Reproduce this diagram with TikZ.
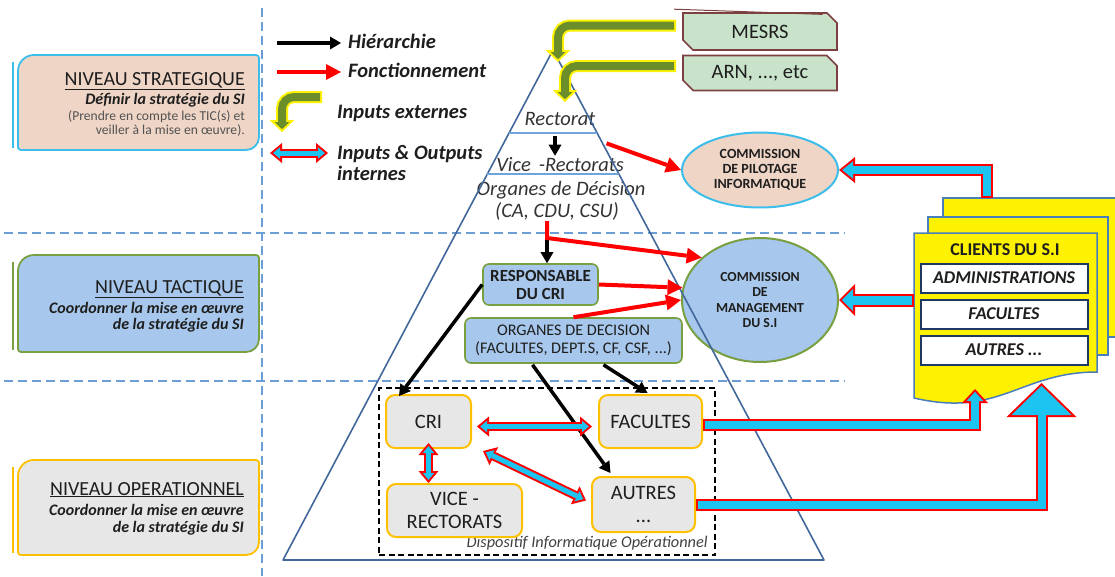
\documentclass[tikz,border=0pt]{standalone}
\usepackage{fontspec}
\setmainfont{Carlito}
\usetikzlibrary{arrows.meta,shapes.geometric,shapes.misc,calc}

\definecolor{peach}{HTML}{EFD5C6}
\definecolor{skyline}{HTML}{3DBDEA}
\definecolor{paleblue}{HTML}{A7C8EC}
\definecolor{leaf}{HTML}{78A040}
\definecolor{amber}{HTML}{FFC000}
\definecolor{pale}{HTML}{E7E7E7}
\definecolor{moss}{HTML}{6B8E2A}
\definecolor{mint}{HTML}{C9E3CA}
\definecolor{maroon}{HTML}{7D4040}
\definecolor{pyrblue}{HTML}{41679B}
\definecolor{layblue}{HTML}{6FA5DC}
\definecolor{dashblue}{HTML}{6C9ED6}
\definecolor{iocyan}{HTML}{1CC4F2}
\definecolor{navy}{HTML}{1F3864}
\definecolor{docblue}{HTML}{4A7EBB}
\definecolor{ink}{HTML}{1E1E1E}

\tikzset{
  sepline/.style={dashblue,line width=1.6pt,dash pattern=on 9pt off 5pt},
  lvltitle/.style={anchor=base east,inner sep=0pt,text=ink,font=\fontsize{20}{22}\selectfont},
  lvlsub/.style={anchor=base east,inner sep=0pt,text=ink,font=\fontsize{16}{18}\selectfont\bfseries\itshape},
  lvlnote/.style={anchor=base east,inner sep=0pt,text=black!68,font=\fontsize{13.6}{15}\selectfont},
  legtext/.style={anchor=base west,inner sep=0pt,text=ink,font=\fontsize{20.5}{22}\selectfont\bfseries\itshape},
  pyrtext/.style={anchor=base,inner sep=1pt,text=black!80,font=\fontsize{20.5}{22}\selectfont\itshape},
  pyrline/.style={pyrblue,line width=1.6pt,line join=round},
  layline/.style={layblue,line width=1.6pt},
  hier/.style={black,line width=3.5pt,-{Triangle[length=11pt,width=13pt,line width=0pt]}},
  fonc/.style={red,line width=4pt,-{Triangle[length=15pt,width=16pt,line width=0pt]}},
  extbox/.style={chamfered rectangle,chamfered rectangle corners={north east,south west},
    chamfered rectangle xsep=7pt,draw=maroon,line width=1.6pt,fill=mint,
    minimum width=154pt,minimum height=37pt,inner sep=0pt,text=ink,font=\fontsize{20.5}{22}\selectfont},
  pilot/.style={ellipse,draw=skyline,line width=2pt,fill=peach,minimum width=156pt,minimum height=75pt,
    align=center,inner sep=0pt,text=ink,font=\fontsize{14}{15}\selectfont\bfseries},
  manag/.style={ellipse,draw=leaf,line width=2pt,fill=paleblue,minimum width=156pt,minimum height=124pt,
    align=center,inner sep=0pt,text=ink,font=\fontsize{13.8}{15.5}\selectfont\bfseries},
  tacbox/.style={draw=leaf,line width=1.6pt,fill=paleblue,rounded corners=6pt,align=center,
    inner sep=2pt,text=ink,font=\fontsize{16.2}{18}\selectfont},
  opbox/.style={draw=amber,line width=2pt,fill=pale,rounded corners=9pt,minimum height=53pt,
    align=center,text=ink,font=\fontsize{20.5}{23}\selectfont},
  dispo/.style={draw,line width=1.8pt,dash pattern=on 6pt off 3.5pt,minimum width=336pt,
    minimum height=167pt,inner sep=0pt},
  dlabel/.style={anchor=base east,inner sep=0pt,text=black!75,font=\fontsize{16.3}{18}\selectfont\itshape},
  docpage/.style={draw=docblue,line width=1.5pt,fill=yellow},
  cltitle/.style={anchor=base,inner sep=0pt,text=ink,font=\fontsize{18}{20}\selectfont\bfseries},
  cltbox/.style={draw=navy,line width=2pt,fill=white,minimum width=167pt,minimum height=29pt,
    inner sep=0pt,text=ink,font=\fontsize{18}{20}\selectfont\bfseries\itshape},
  % fleches bloc
  feed out/.style={yellow,line width=12pt,rounded corners=12pt,-{Triangle[length=12pt,width=25pt,line width=0pt]}},
  feed in/.style={moss,line width=8pt,rounded corners=12pt,shorten <=2pt,shorten >=2.8pt,
    -{Triangle[length=7.2pt,width=15pt,line width=0pt]}},
  dbl out/.style={red,line width=9pt,
    {Triangle[length=12pt,width=20pt,line width=0pt]}-{Triangle[length=12pt,width=20pt,line width=0pt]}},
  dbl in/.style={iocyan,line width=5pt,shorten <=3.1pt,shorten >=3.1pt,
    {Triangle[length=6.9pt,width=11.5pt,line width=0pt]}-{Triangle[length=6.9pt,width=11.5pt,line width=0pt]}},
  up out/.style={red,line width=12pt,-{Triangle[length=14pt,width=26pt,line width=0pt]}},
  up in/.style={iocyan,line width=8pt,shorten <=2pt,shorten >=2.9pt,
    -{Triangle[length=9.1pt,width=16.9pt,line width=0pt]}},
  big out/.style={red,line width=12pt,-{Triangle[length=34pt,width=70pt,line width=0pt]}},
  big in/.style={iocyan,line width=8pt,shorten <=2pt,shorten >=2.8pt,
    -{Triangle[length=29.2pt,width=60pt,line width=0pt]}},
  side out/.style={red,line width=13pt,-{Triangle[length=16pt,width=32pt,line width=0pt]}},
  side in/.style={iocyan,line width=9pt,shorten <=2pt,shorten >=2.8pt,
    -{Triangle[length=11.2pt,width=22.3pt,line width=0pt]}},
  top out/.style={red,line width=12pt,-{Triangle[length=16pt,width=26pt,line width=0pt]}},
  top in/.style={iocyan,line width=8pt,shorten <=2pt,shorten >=3.2pt,
    -{Triangle[length=10.8pt,width=17.5pt,line width=0pt]}},
}

% cadre de niveau : x1 y1 x2 y2 bord fond
\newcommand\levelframe[6]{%
  \draw[#5,line width=1.8pt,fill=#6] (#1,#4-3) -- (#1,#2+16)
    arc[start angle=180,end angle=270,radius=16] -- (#3-3,#2)
    arc[start angle=270,end angle=360,radius=3] -- (#3,#4-13)
    arc[start angle=0,end angle=90,radius=13] -- (#1+3,#4)
    arc[start angle=90,end angle=180,radius=3] -- cycle;
  \draw[#5,line width=1.8pt] (#1-5,#2+7) -- (#1-5,#4-2);}

\begin{document}
\begin{tikzpicture}[x=1pt,y=-1pt]
\useasboundingbox (0,0) rectangle (1115,576);

% separations
\draw[sepline] (262,8) -- (262,576);
\draw[sepline] (4,233) -- (845,233);
\draw[sepline] (4,381) -- (845,381);

% niveaux
\levelframe{18}{55}{259}{150}{skyline}{peach}
\levelframe{18}{255}{259}{352}{leaf}{paleblue}
\levelframe{18}{460}{259}{555}{amber}{pale}
\node[lvltitle] (strat) at (245,85) {\underline{NIVEAU STRATEGIQUE}};
\node[lvlsub] (stratA) at (245,104) {Définir la stratégie du SI};
\node[lvlnote] (stratB) at (245,120) {(Prendre en compte les TIC(s) et};
\node[lvlnote] (stratC) at (245,134) {veiller à la mise en œuvre).};
\node[lvltitle] (tact) at (244,293) {\underline{NIVEAU TACTIQUE}};
\node[lvlsub] (tactA) at (244,313) {Coordonner la mise en œuvre};
\node[lvlsub] (tactB) at (244,329) {de la stratégie du SI};
\node[lvltitle] (oper) at (244,495) {\underline{NIVEAU OPERATIONNEL}};
\node[lvlsub] (operA) at (244,515) {Coordonner la mise en œuvre};
\node[lvlsub] (operB) at (244,532) {de la stratégie du SI};

% legende
\coordinate (lgH1) at (277,43);
\coordinate (lgH2) at (341,43);
\draw[hier] (lgH1) -- (lgH2);
\node[legtext] (lgHtxt) at (348,48) {Hiérarchie};
\coordinate (lgF1) at (277,72);
\coordinate (lgF2) at (341,72);
\draw[fonc] (lgF1) -- (lgF2);
\node[legtext] (lgFtxt) at (348,77) {Fonctionnement};
\coordinate (lgE1) at (322,97);
\coordinate (lgE2) at (282,132);
\draw[feed out] (lgE1) -| (lgE2);
\draw[feed in] (lgE1) -| (lgE2);
\node[legtext] (lgEtxt) at (337,118) {Inputs externes};
\coordinate (lgI1) at (270,153);
\coordinate (lgI2) at (328,153);
\draw[dbl out] (lgI1) -- (lgI2);
\draw[dbl in] (lgI1) -- (lgI2);
\node[legtext] (lgItxt) at (337,159) {Inputs \& Outputs};
\node[legtext] (lgItxtB) at (337,180) {internes};

% pyramide
\node[pyrtext] (rect) at (560,125) {Rectorat};
\node[pyrtext] (vr) at (560,171) {Vice\hspace{8pt}-Rectorats};
\node[pyrtext] (orgA) at (561,195) {Organes de Décision};
\node[pyrtext] (orgB) at (557,217) {(CA, CDU, CSU)};

\node[pilot] (pil) at (760,170) {COMMISSION\\DE PILOTAGE\\INFORMATIQUE};
\node[manag] (mgmt) at (760,300) {COMMISSION\\DE\\MANAGEMENT\\DU S.I};

\coordinate (apex) at (553,50);
\coordinate (pl) at (283,560);
\coordinate (pr) at (824,560);
\draw[pyrline] (pl) -- (apex) -- (pr) -- cycle;
\draw[layline] ($(pl)!0.837!(apex)$) -- ($(pr)!0.837!(apex)$);
\draw[layline] ($(pl)!0.757!(apex)$) -- ($(pr)!0.757!(apex)$);

% inputs externes
\node[extbox] (mesrs) at (760,31.5) {MESRS};
\node[extbox,minimum height=35pt] (arn) at (760,73) {ARN, ..., etc};
\draw[maroon,line width=1pt] ($(mesrs.north west)+(-8,-3)$) -- ($(mesrs.north east)+(-10,-3)$);
\coordinate (inA) at (558,62);
\coordinate (inB) at (565,102);
\draw[feed out] ($(mesrs.west)+(-6,-6)$) -| (inA);
\draw[feed in] ($(mesrs.west)+(-6,-6)$) -| (inA);
\draw[feed out] ($(arn.west)+(-6,-7)$) -| (inB);
\draw[feed in] ($(arn.west)+(-6,-7)$) -| (inB);

% niveau tactique et operationnel
\node[tacbox,minimum width=115pt,minimum height=41pt,font=\fontsize{17}{18}\selectfont\bfseries] (resp) at (540.5,284.5) {RESPONSABLE\\DU CRI};
\node[tacbox,minimum width=217pt,minimum height=45pt] (org2) at (573.5,340.5) {ORGANES DE DECISION\\(FACULTES, DEPT.S, CF, CSF, ...)};
\node[dispo] (dispo) at (547,471.5) {};
\node[dlabel] (dispolbl) at ($(dispo.south east)+(-8,-8)$) {Dispositif Informatique Opérationnel};
\node[opbox,minimum width=85pt] (cri) at (428.5,421.5) {CRI};
\node[opbox,minimum width=103pt] (fac) at (650.5,421.5) {FACULTES};
\node[opbox,minimum width=135pt] (vice) at (454.5,510.5) {VICE -\\RECTORATS};
\node[opbox,minimum width=103pt,minimum height=55pt] (aut) at (643.5,504.5) {AUTRES\\...};

% clients
\draw[docpage] (943,198) rectangle (1122,337);
\draw[docpage] (928,217) rectangle (1108,355);
\draw[docpage] (914,233) -- (1097,233) -- (1097,372) .. controls (1020,372) and (1000,418) .. (914,398) -- cycle;
\node[cltitle] (clients) at (1005,255) {CLIENTS DU S.I};
\node[cltbox] (cadm) at (1004,278) {ADMINISTRATIONS};
\node[cltbox] (cfac) at (1004,314) {FACULTES};
\node[cltbox] (caut) at (1004,350) {AUTRES ...};
\coordinate (clTop) at (987,198);
\coordinate (clLeft) at (914,300);
\coordinate (clA) at (975,389);
\coordinate (clB) at (1041.5,383);

% fonctionnement
\coordinate (split) at (547,238);
\draw[hier] (split) -- (split |- resp.north);
\draw[fonc] ($(rect.south east)+(10,17)$) -- (pil.west);
\draw[fonc] (split |- orgB.south) -- (split) -- (mgmt.144);
\draw[fonc] (resp.east) -- (mgmt.171);
\draw[fonc] (org2.north) -- (mgmt.west);

% hierarchie
\draw[hier] ($(rect.south)+(-5,10)$) -- ($(vr.north)+(-5,0)$);
\draw[hier] (resp.west) -- ($(cri.north west)+(14,2)$);
\draw[hier] ($(org2.south)+(-41,1)$) -- ($(aut.north)+(-33,-3)$);
\draw[hier] ($(org2.south)+(30,1)$) -- ($(fac.north)+(-3,-1)$);

% inputs / outputs internes
\draw[dbl out] ($(cri.east)+(5,5)$) -- ($(fac.west)+(-6,5)$);
\draw[dbl in] ($(cri.east)+(5,5)$) -- ($(fac.west)+(-6,5)$);
\draw[dbl out] ($(cri.south)+(0,-6)$) -- (cri.south |- vice.north);
\draw[dbl in] ($(cri.south)+(0,-6)$) -- (cri.south |- vice.north);
\draw[dbl out] ($(cri.south east)+(11,2)$) -- ($(aut.west)+(-5,-4)$);
\draw[dbl in] ($(cri.south east)+(11,2)$) -- ($(aut.west)+(-5,-4)$);

\draw[up out] ($(fac.east)+(0,3)$) -| (clA);
\draw[up in] ($(fac.east)+(0,3)$) -| (clA);
\draw[big out] (aut.east) -| (clB);
\draw[big in] (aut.east) -| (clB);
\draw[side out] (clLeft) -- (mgmt.east);
\draw[side in] (clLeft) -- (mgmt.east);
\draw[top out] (clTop) |- (pil.east);
\draw[top in] (clTop) |- (pil.east);
\end{tikzpicture}
\end{document}
